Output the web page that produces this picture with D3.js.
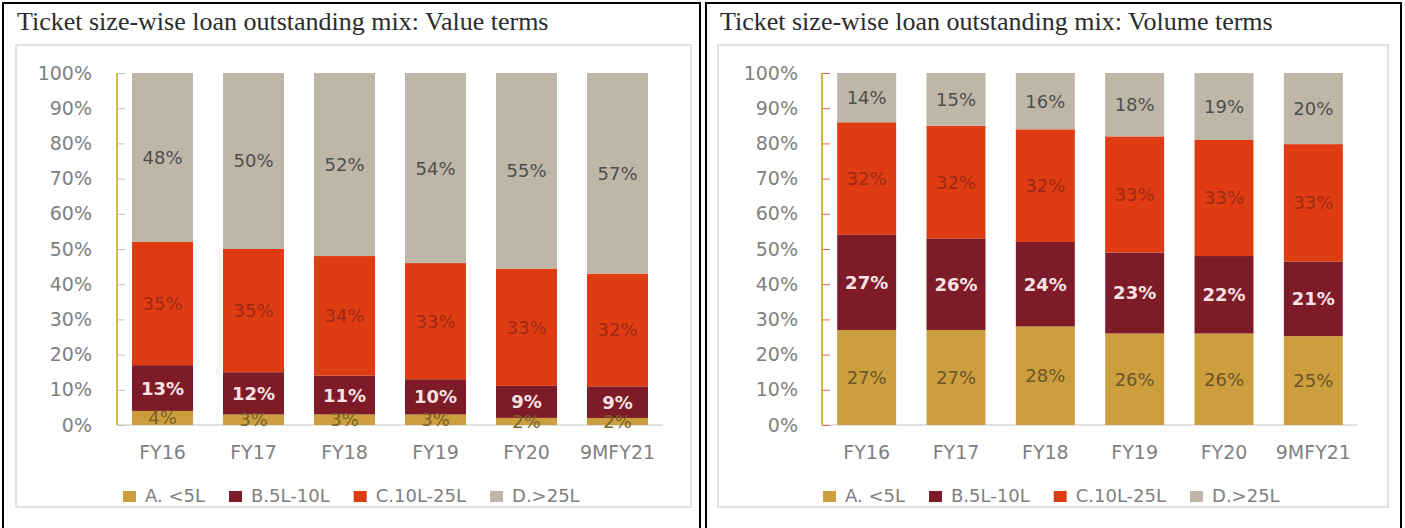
<!DOCTYPE html>
<html>
<head>
<meta charset="utf-8">
<script src="https://cdn.jsdelivr.net/npm/d3@7/dist/d3.min.js"></script>
<style>
  body { margin: 0; background: #fff; }
  svg { display: block; }
</style>
</head>
<body>
<svg id="chart" width="1405" height="528"></svg>
<script>
// categories and series
const categories = ["FY16", "FY17", "FY18", "FY19", "FY20", "9MFY21"];
const seriesNames = ["A. <5L", "B.5L-10L", "C.10L-25L", "D.>25L"];
const yTicks = [0, 0.1, 0.2, 0.3, 0.4, 0.5, 0.6, 0.7, 0.8, 0.9, 1];

// value terms (%)
const valueA = [4, 3, 3, 3, 2, 2];
const valueB = [13, 12, 11, 10, 9, 9];
const valueC = [35, 35, 34, 33, 33, 32];
const valueD = [48, 50, 52, 54, 55, 57];

// volume terms (%)
const volumeA = [27, 27, 28, 26, 26, 25];
const volumeB = [27, 26, 24, 23, 22, 21];
const volumeC = [32, 32, 32, 33, 33, 33];
const volumeD = [14, 15, 16, 18, 19, 20];

const colors = ["#cc9e3e", "#7d1b28", "#e03c14", "#beb6a6"];
const labelColors = ["#7a6128", "#f8e2e2", "#9c2a12", "#4f4f4f"];
const font = "'DejaVu Sans', sans-serif";

let svg = d3.select("#chart");

function drawPanel(cfg) {
  let g = svg.append("g");

  // outer black frame
  g.append("rect")
    .attr("x", cfg.frame[0]).attr("y", 3)
    .attr("width", cfg.frame[1] - cfg.frame[0]).attr("height", 540)
    .attr("fill", "none").attr("stroke", "#000").attr("stroke-width", 2);

  g.append("text")
    .attr("x", cfg.frame[0] + 14).attr("y", 30)
    .style("font-family", "'Liberation Serif', serif")
    .style("font-size", "26px")
    .attr("fill", "#2b2b2b")
    .text(cfg.title);

  // inner light box
  g.append("rect")
    .attr("x", cfg.box[0]).attr("y", 45)
    .attr("width", cfg.box[1] - cfg.box[0]).attr("height", 462)
    .attr("fill", "none").attr("stroke", "#d9d9d9").attr("stroke-width", 1.5);

  let rows = categories.map((c, i) => {
    let r = { cat: c };
    seriesNames.forEach((s, k) => r[s] = cfg.series[k][i]);
    return r;
  });
  let stacked = d3.stack().keys(seriesNames).offset(d3.stackOffsetExpand)(rows);

  let x = d3.scaleBand().domain(categories).range(cfg.plotX).paddingInner(cfg.pad).paddingOuter(cfg.pad / 2);
  let y = d3.scaleLinear().domain([0, 1]).range([425, 73]);

  // x axis baseline
  g.append("line")
    .attr("x1", cfg.plotX[0]).attr("x2", cfg.plotX[1])
    .attr("y1", y(0)).attr("y2", y(0))
    .attr("stroke", "#d9d9d9").attr("stroke-width", 1.5);

  // bars
  stacked.forEach((layer, k) => {
    g.append("g").selectAll("rect")
      .data(layer)
      .join("rect")
      .attr("x", d => x(d.data.cat))
      .attr("y", d => y(d[1]))
      .attr("width", x.bandwidth())
      .attr("height", d => y(d[0]) - y(d[1]))
      .attr("fill", colors[k]);
  });

  // data labels
  stacked.forEach((layer, k) => {
    g.append("g").selectAll("text")
      .data(layer)
      .join("text")
      .attr("x", d => x(d.data.cat) + x.bandwidth() / 2)
      .attr("y", d => (y(d[0]) + y(d[1])) / 2)
      .attr("dy", "0.36em")
      .attr("text-anchor", "middle")
      .style("font-family", font)
      .style("font-size", "18px")
      .style("font-weight", k == 1 ? "bold" : "normal")
      .attr("fill", k == 0 ? cfg.aLabel : labelColors[k])
      .text(d => d.data[seriesNames[k]] + "%");
  });

  // y axis
  let yAxis = g.append("g")
    .attr("transform", `translate(${cfg.plotX[0]},0)`)
    .call(d3.axisRight(y).tickValues(yTicks).tickFormat(d3.format(".0%")).tickSize(8));
  yAxis.select(".domain").attr("stroke", "#d8b84a").attr("stroke-width", 2)
    .attr("d", `M0,${y(1)}V${y(0)}`);
  yAxis.selectAll(".tick line").attr("stroke", cfg.tickColor);
  yAxis.selectAll(".tick text")
    .attr("x", -cfg.labelGap).attr("text-anchor", "end")
    .style("font-family", font).style("font-size", "19px")
    .attr("fill", "#808080");

  // x labels
  g.append("g").selectAll("text")
    .data(categories)
    .join("text")
    .attr("x", d => x(d) + x.bandwidth() / 2)
    .attr("y", 459)
    .attr("text-anchor", "middle")
    .style("font-family", font)
    .style("font-size", "19px")
    .attr("fill", "#808080")
    .text(d => d);

  // legend
  let lx = cfg.legendX;
  seriesNames.forEach((s, k) => {
    g.append("rect")
      .attr("x", lx).attr("y", 491)
      .attr("width", 13).attr("height", 11)
      .attr("fill", colors[k]);
    let t = g.append("text")
      .attr("x", lx + 22).attr("y", 502)
      .style("font-family", font)
      .style("font-size", "18px")
      .attr("fill", "#808080")
      .text(s);
    lx += 22 + t.node().getComputedTextLength() + 24;
  });
}

drawPanel({
  title: "Ticket size-wise loan outstanding mix: Value terms",
  frame: [3, 700],
  box: [16, 691],
  plotX: [117, 663],
  pad: 0.33,
  labelGap: 25,
  tickColor: "#bfbfbf",
  aLabel: "#7a6128",
  legendX: 123,
  series: [valueA, valueB, valueC, valueD]
});

drawPanel({
  title: "Ticket size-wise loan outstanding mix: Volume terms",
  frame: [706, 1401],
  box: [718, 1388],
  plotX: [822, 1358],
  pad: 0.34,
  labelGap: 24,
  tickColor: "#d9704c",
  aLabel: "#6b5628",
  legendX: 823,
  series: [volumeA, volumeB, volumeC, volumeD]
});
</script>
</body>
</html>
